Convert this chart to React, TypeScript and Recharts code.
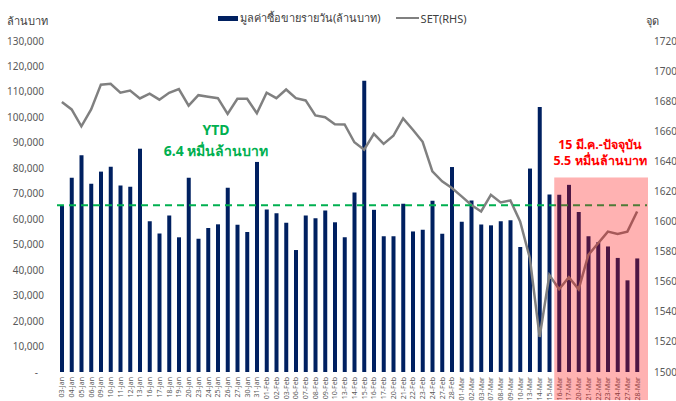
import React from "react"
import { ComposedChart, XAxis, YAxis, Bar, Line, ReferenceLine, ReferenceArea } from "recharts"

const dates = [
  "03-Jan", "04-Jan", "05-Jan", "06-Jan", "09-Jan", "10-Jan", "11-Jan", "12-Jan", "13-Jan", "16-Jan",
  "17-Jan", "18-Jan", "19-Jan", "20-Jan", "23-Jan", "24-Jan", "25-Jan", "26-Jan", "27-Jan", "30-Jan",
  "31-Jan", "01-Feb", "02-Feb", "03-Feb", "06-Feb", "07-Feb", "08-Feb", "09-Feb", "10-Feb", "13-Feb",
  "14-Feb", "15-Feb", "16-Feb", "17-Feb", "20-Feb", "21-Feb", "22-Feb", "23-Feb", "24-Feb", "27-Feb",
  "28-Feb", "01-Mar", "02-Mar", "03-Mar", "07-Mar", "08-Mar", "09-Mar", "10-Mar", "13-Mar", "14-Mar",
  "15-Mar", "16-Mar", "17-Mar", "20-Mar", "21-Mar", "22-Mar", "23-Mar", "24-Mar", "27-Mar", "28-Mar",
]

// daily turnover, million baht (left axis)
const turnover = [
  65500, 76300, 85100, 73900, 78700, 80600, 73200, 72800, 87700, 59200,
  54400, 61500, 52900, 76300, 52300, 56600, 58000, 72400, 57800, 55000,
  82500, 63800, 62300, 58600, 47900, 61500, 60400, 63400, 58800, 52900,
  70500, 114400, 63700, 53300, 53300, 66100, 55200, 55900, 67300, 54300,
  80500, 59000, 67400, 57900, 57600, 59200, 59600, 49100, 79900, 104100,
  69700, 69600, 73500, 62800, 53300, 51000, 49300, 44800, 36000, 44600,
]

// SET index, points (right axis)
const setIndex = [
  1679.5, 1674.5, 1663.3, 1674.5, 1691.0, 1691.6, 1685.6, 1687.0, 1681.8, 1685.0,
  1681.0, 1685.6, 1688.0, 1677.0, 1684.0, 1683.0, 1682.0, 1671.6, 1681.6, 1681.6,
  1672.0, 1685.6, 1682.0, 1687.8, 1682.0, 1680.5, 1670.5, 1669.3, 1664.7, 1664.5,
  1652.7, 1647.8, 1658.3, 1651.6, 1657.0, 1668.5, 1661.0, 1653.0, 1633.3, 1626.7,
  1622.3, 1616.7, 1611.0, 1606.7, 1617.8, 1612.7, 1614.0, 1600.0, 1575.6, 1523.3,
  1564.5, 1555.0, 1563.0, 1555.0, 1577.8, 1585.6, 1593.3, 1591.8, 1593.3, 1606.7,
]

const leftTicks = [0, 10000, 20000, 30000, 40000, 50000, 60000, 70000, 80000, 90000, 100000, 110000, 120000, 130000]
const rightTicks = [1500, 1520, 1540, 1560, 1580, 1600, 1620, 1640, 1660, 1680, 1700, 1720]

const ytdAverage = 65500
const periodStart = "16-Mar"
const periodEnd = "28-Mar"
const periodTop = 76400
const periodBottom = -11000

const data = dates.map((d, i) => ({ date: d, turnover: turnover[i], set: setIndex[i] }))

const font = "'Noto Sans', 'DejaVu Sans', sans-serif"
const tickColor = "#595959"

const LeftTick = (props: any) => {
  const { x, y, payload } = props
  const v = payload.value
  return (
    <text x={v === 0 ? x - 6 : x} y={y} dy="0.35em" textAnchor="end" fontSize={10} fill={tickColor} fontFamily={font}>
      {v === 0 ? "-" : v.toLocaleString("en-US")}
    </text>
  )
}

const RightTick = (props: any) => {
  const { x, y, payload } = props
  return (
    <text x={x} y={y} dy="0.35em" textAnchor="start" fontSize={10} fill={tickColor} fontFamily={font}>
      {payload.value}
    </text>
  )
}

const DateTick = (props: any) => {
  const { x, y, payload } = props
  return (
    <g transform={`translate(${x},${y})`}>
      <text transform="rotate(-90)" x={0} y={0} dy="0.35em" textAnchor="end" fontSize={7} fill={tickColor} fontFamily={font}>
        {payload.value}
      </text>
    </g>
  )
}

// the excel shapes run a few px past the plot edge
const PeriodBox = (p: any) => (
  <rect x={p.x} y={p.y} width={p.width + 6} height={p.height} fill="#FF0000" fillOpacity={0.3} />
)

const DashedAvg = (p: any) => (
  <line x1={p.x1} y1={p.y1} x2={p.x2 + 5} y2={p.y2} stroke="#00B050" strokeWidth={2} strokeDasharray="7 5" />
)

export default function App() {
  return (
    <div style={{ position: "absolute", left: 0, top: 0, width: 676, height: 401, background: "#fff", fontFamily: font }}>
      <ComposedChart width={676} height={401} data={data} margin={{ top: 41, right: 0, left: 0, bottom: 0 }}>
        <XAxis dataKey="date" height={29} interval={0} axisLine={false} tickLine={false} tickSize={0} tickMargin={5} tick={<DateTick />} />
        <YAxis yAxisId="left" width={57} domain={[0, 130000]} ticks={leftTicks} axisLine={false} tickLine={false} tickSize={0} tickMargin={13} tick={<LeftTick />} />
        <YAxis yAxisId="right" orientation="right" width={34} domain={[1500, 1720]} ticks={rightTicks} axisLine={false} tickLine={false} tickSize={0} tickMargin={12} tick={<RightTick />} />
        <Bar yAxisId="left" dataKey="turnover" fill="#002060" barSize={4} isAnimationActive={false} />
        <Line yAxisId="right" dataKey="set" type="linear" stroke="#808080" strokeWidth={2.5} dot={false} activeDot={false} isAnimationActive={false} />
        <ReferenceLine yAxisId="left" y={ytdAverage} ifOverflow="visible" shape={DashedAvg} />
        <ReferenceArea
          yAxisId="left"
          x1={periodStart}
          x2={periodEnd}
          y1={periodBottom}
          y2={periodTop}
          ifOverflow="visible"
          shape={PeriodBox}
          zIndex={2000}
        />
      </ComposedChart>

      {/* legend and annotations */}
      <div style={{ position: "absolute", left: 7, top: 12, fontSize: 11, color: "#404040" }}>ล้านบาท</div>
      <div style={{ position: "absolute", left: 646, top: 12, fontSize: 11, color: "#404040" }}>จุด</div>
      <div style={{ position: "absolute", left: 218, top: 9, display: "flex", alignItems: "center", fontSize: 11, color: "#404040" }}>
        <span style={{ display: "inline-block", width: 20, height: 5, background: "#002060", marginRight: 2 }} />
        <span>มูลค่าซื้อขายรายวัน(ล้านบาท)</span>
        <span style={{ display: "inline-block", width: 23, height: 2, background: "#808080", marginLeft: 15, marginRight: 2 }} />
        <span>SET(RHS)</span>
      </div>
      <div style={{ position: "absolute", left: 116, top: 119, width: 200, textAlign: "center", color: "#00B050", fontWeight: 700, fontSize: 14, lineHeight: "21px" }}>
        YTD<br />6.4 หมื่นล้านบาท
      </div>
      <div style={{ position: "absolute", left: 500, top: 137, width: 200, textAlign: "center", color: "#FF0000", fontWeight: 700, fontSize: 12.5, lineHeight: "16px" }}>
        15 มี.ค.-ปัจจุบัน<br />5.5 หมื่นล้านบาท
      </div>
    </div>
  )
}
